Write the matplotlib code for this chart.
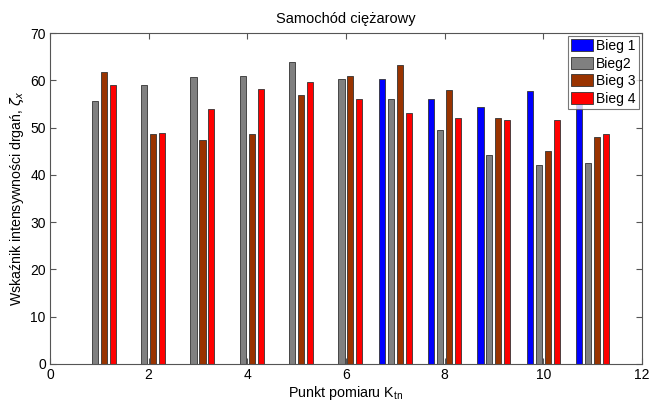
import numpy as np
import matplotlib
matplotlib.use("Agg")
import matplotlib.pyplot as plt

plt.rcParams['font.family'] = ['Liberation Sans', 'DejaVu Sans']

points = [1, 2, 3, 4, 5, 6, 7, 8, 9, 10, 11]
bieg1 = [np.nan, np.nan, np.nan, np.nan, np.nan, np.nan, 60.3, 56.0, 54.3, 57.8, 55.0]
bieg2 = [55.7, 58.9, 60.6, 60.9, 63.9, 60.3, 56.1, 49.5, 44.1, 42.0, 42.6]
bieg3 = [61.7, 48.6, 47.4, 48.7, 56.9, 61.0, 63.2, 57.9, 52.1, 45.0, 48.1]
bieg4 = [58.9, 48.8, 54.0, 58.2, 59.6, 56.0, 53.1, 52.1, 51.5, 51.7, 48.7]
labels = ['Bieg 1', 'Bieg2', 'Bieg 3', 'Bieg 4']
colors = ['#0000ff', '#808080', '#993300', '#ff0000']

fig = plt.figure(figsize=(6.54, 4.01), dpi=100)
ax = fig.add_axes([0.0765, 0.0923, 0.905, 0.8254])

series = [bieg1, bieg2, bieg3, bieg4]
n = len(series)
gw = n / (n + 1.5)
slot = gw / n
x = np.array(points, dtype=float)
for i, (vals, lab, c) in enumerate(zip(series, labels, colors)):
    off = -gw / 2 + slot * (i + 0.5)
    ax.bar(x + off, vals, width=slot * 0.68, color=c, edgecolor='#333333',
           linewidth=0.6, label=lab)

ax.set_xlim(0, 12)
ax.set_ylim(0, 70)
ax.set_xticks(range(0, 13, 2))
ax.set_yticks(range(0, 71, 10))
ax.tick_params(direction='in', top=True, right=True, labelsize=10, length=4,
               color='#555555', pad=3)
for s in ax.spines.values():
    s.set_color('#555555')
    s.set_linewidth(0.8)

ax.set_title('Samochód ciężarowy', fontsize=10.5, pad=7)
ax.set_xlabel(r'Punkt pomiaru K$_{\mathregular{tn}}$', fontsize=10.3, labelpad=1)
ax.set_ylabel(r'Wskaźnik intensywności drgań, $\zeta_x$', fontsize=10.2, labelpad=3)

leg = ax.legend(loc='upper right', fontsize=10, frameon=True, fancybox=False,
                edgecolor='#555555', handlelength=1.6, handleheight=0.95,
                handletextpad=0.2, borderpad=0.25, labelspacing=0.25,
                borderaxespad=0.2)
leg.get_frame().set_linewidth(0.8)

fig.savefig('out.png', dpi=100)
